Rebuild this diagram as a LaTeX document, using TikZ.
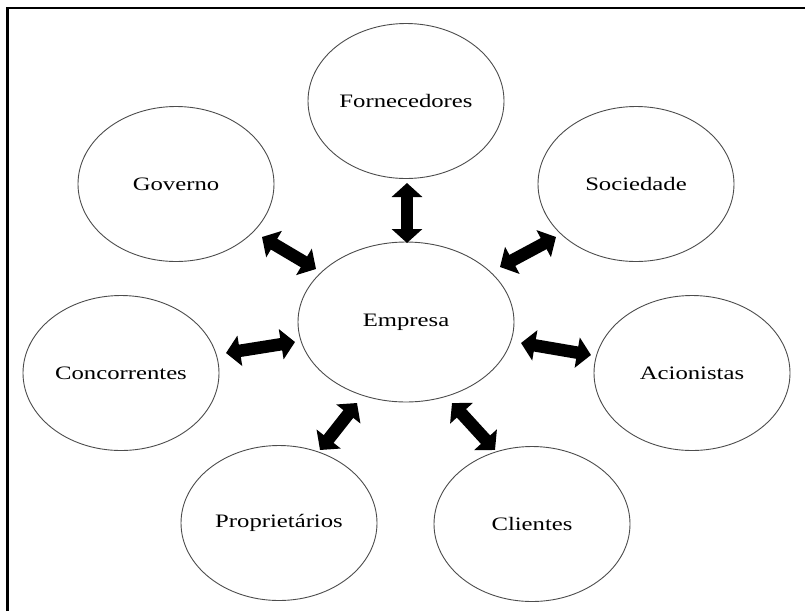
\documentclass[tikz,border=0pt]{standalone}
\usepackage{fontspec}
\setmainfont{Liberation Serif}[FakeStretch=1.3]
\usetikzlibrary{shapes.geometric,arrows.meta,calc}
\tikzset{
  party/.style={ellipse, draw=black!70, line width=0.9pt, inner sep=0pt,
    minimum width=196pt, minimum height=155pt, font=\fontsize{19}{21}\selectfont},
  link/.style={line width=12.5pt, black,
    {Triangle[width=30pt,length=14pt]}-{Triangle[width=30pt,length=14pt]}},
  frameline/.style={line width=2.5pt, black}
}
\begin{document}
\begin{tikzpicture}[x=1pt,y=-1pt]
\useasboundingbox (0,0) rectangle (805,611);
\coordinate (fbl) at (7.5,611);
\coordinate (ftl) at (7.5,8);
\coordinate (ftr) at (805,8);
\draw[frameline] (fbl) -- (ftl) -- (ftr);

\node[party] (forn) at (406,101) {Fornecedores};
\node[party] (gov)  at (176,184) {Governo};
\node[party] (soc)  at (636,184) {Sociedade};
\node[party, minimum width=216pt, minimum height=160pt] (emp) at (406,322) {Empresa};
\node[party] (conc) at (121,373) {Concorrentes};
\node[party] (acio) at (692,373) {Acionistas};
\node[party] (prop) at (279,523) {Proprietários};
\node[party] (cli)  at (532,524) {Clientes};

\draw[link] ($(forn)+(1,82)$) -- ($(emp)+(1,-79)$);
\draw[link] ($(gov)+(86,53)$) -- ($(emp)+(-90,-53)$);
\draw[link] ($(soc)+(-80,53)$) -- ($(emp)+(94,-55)$);
\draw[link] ($(conc)+(105,-20)$) -- ($(emp)+(-111,20)$);
\draw[link] ($(acio)+(-101,-18)$) -- ($(emp)+(115,21)$);
\draw[link] ($(prop)+(41,-73)$) -- ($(emp)+(-49,81)$);
\draw[link] ($(cli)+(-37,-74)$) -- ($(emp)+(46,81)$);
\end{tikzpicture}
\end{document}
